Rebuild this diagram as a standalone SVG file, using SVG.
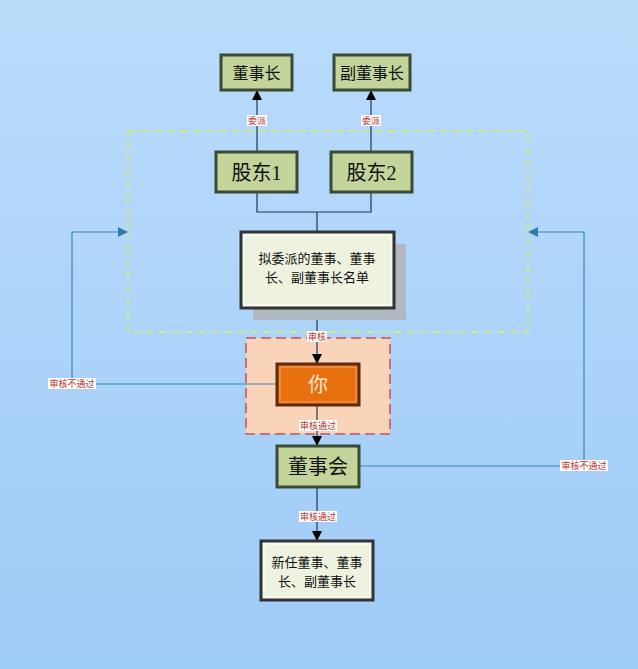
<svg xmlns="http://www.w3.org/2000/svg" width="638" height="669" viewBox="0 0 638 669">
<defs>
<linearGradient id="bg" x1="0" y1="0" x2="0" y2="1"><stop offset="0" stop-color="#BADCFB"/><stop offset="1" stop-color="#9FCBF7"/></linearGradient>
<marker id="ab" markerWidth="10" markerHeight="10" refX="9" refY="5" orient="auto" markerUnits="userSpaceOnUse"><path d="M0,0 L10,5 L0,10 z" fill="#000"/></marker>
<marker id="abl" markerWidth="10" markerHeight="10" refX="9" refY="5" orient="auto" markerUnits="userSpaceOnUse"><path d="M0,0 L10,5 L0,10 z" fill="#2E7BB0"/></marker>
<style>
.g{fill:#C3D59B;stroke:#3B4A35;stroke-width:3}
.gi{fill:none;stroke:#C3D59B;stroke-width:1}
.w{fill:#EEF3E0;stroke:#333;stroke-width:3}
.t{font-family:"Liberation Serif","Noto Sans CJK SC",serif;fill:#111;text-anchor:middle}
.l{stroke:#1F3A4F;stroke-width:1.2;fill:none}
.bl{stroke:#3A86B8;stroke-width:1.2;fill:none}
.lb{font-family:"Liberation Serif","Noto Sans CJK SC",serif;font-size:9px;fill:#C0302A;text-anchor:middle}
</style>
</defs>
<rect width="638" height="669" fill="url(#bg)"/>
<rect x="128" y="131" width="400" height="201" fill="none" stroke="#D8EC70" stroke-width="1.5" stroke-dasharray="8,5"/>
<rect x="246" y="338" width="144" height="96" fill="#F9D4B8" stroke="#C8505A" stroke-width="1.5" stroke-dasharray="10,5"/>
<g id="connectors">
<path class="l" d="M257,152 V91" marker-end="url(#ab)"/>
<path class="l" d="M371,152 V91" marker-end="url(#ab)"/>
<path class="l" d="M257,192 V212 H371 V192 M317,212 V232"/>
<path class="l" d="M317,308 V363" marker-end="url(#ab)"/>
<path class="l" d="M317,405 V445" marker-end="url(#ab)"/>
<path class="l" d="M317,487 V540" marker-end="url(#ab)"/>
<path class="bl" d="M277,384 H72 V232 H127" marker-end="url(#abl)"/>
<path class="bl" d="M359,466 H584 V232 H529" marker-end="url(#abl)"/>
<rect x="247" y="115" width="20" height="11" fill="#fff"/><text class="lb" x="257" y="124">委派</text>
<rect x="361" y="115" width="20" height="11" fill="#fff"/><text class="lb" x="371" y="124">委派</text>
<rect x="307" y="331" width="20" height="11" fill="#fff"/><text class="lb" x="317" y="340">审核</text>
<rect x="299" y="420" width="38" height="11" fill="#fff"/><text class="lb" x="318" y="429">审核通过</text>
<rect x="299" y="511" width="38" height="11" fill="#fff"/><text class="lb" x="318" y="520">审核通过</text>
<rect x="48" y="378" width="48" height="11" fill="#fff"/><text class="lb" x="72" y="387">审核不通过</text>
<rect x="560" y="460" width="48" height="11" fill="#fff"/><text class="lb" x="584" y="469">审核不通过</text>
</g>
<g id="n1"><rect class="g" x="221" y="55" width="71" height="35"/><rect class="gi" x="224" y="58" width="65" height="29"/><text class="t" x="256.5" y="79" font-size="16">董事长</text></g>
<g id="n2"><rect class="g" x="334" y="55" width="76" height="35"/><rect class="gi" x="337" y="58" width="70" height="29"/><text class="t" x="372" y="79" font-size="16">副董事长</text></g>
<g id="n3"><rect class="g" x="216" y="152" width="81" height="40"/><rect class="gi" x="219" y="155" width="75" height="34"/><text class="t" x="256.5" y="180" font-size="20">股东1</text></g>
<g id="n4"><rect class="g" x="331" y="152" width="81" height="40"/><rect class="gi" x="334" y="155" width="75" height="34"/><text class="t" x="371.5" y="180" font-size="20">股东2</text></g>
<g id="n5"><rect x="253" y="244" width="153" height="76" fill="#B0B8C0"/><rect class="w" x="241" y="232" width="153" height="76"/><rect x="244" y="235" width="147" height="70" fill="none" stroke="#fff"/><text class="t" x="317" y="263" font-size="13">拟委派的董事、董事</text><text class="t" x="317" y="282" font-size="13">长、副董事长名单</text></g>
<g id="n6"><rect x="277" y="364" width="82" height="41" fill="#E8700F" stroke="#5A2A0A" stroke-width="3"/><rect x="280" y="367" width="76" height="35" fill="none" stroke="#F5A060"/><text class="t" x="318" y="392" font-size="20" fill="#FBE8D0" style="fill:#FBE8D0">你</text></g>
<g id="n7"><rect class="g" x="277" y="446" width="82" height="41"/><rect class="gi" x="280" y="449" width="76" height="35"/><text class="t" x="318" y="474" font-size="20">董事会</text></g>
<g id="n8"><rect class="w" x="261" y="541" width="112" height="59"/><rect x="264" y="544" width="106" height="53" fill="none" stroke="#fff"/><text class="t" x="317" y="567" font-size="13">新任董事、董事</text><text class="t" x="317" y="586" font-size="13">长、副董事长</text></g>
</svg>
